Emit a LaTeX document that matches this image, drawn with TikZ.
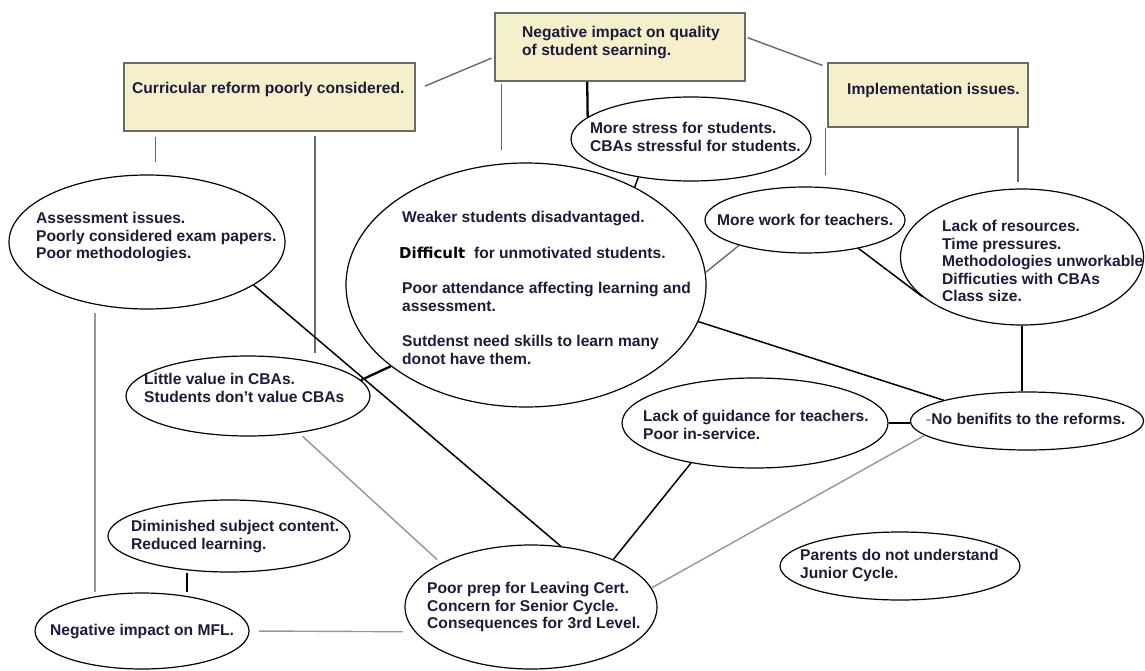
\documentclass[tikz,border=0pt]{standalone}
\usepackage{fontspec}
\setmainfont{Liberation Sans}
\newfontfamily\difffont{DejaVu Sans}
\usetikzlibrary{shapes.geometric,calc}
\definecolor{boxfill}{RGB}{245,239,204}
\definecolor{boxline}{RGB}{105,105,105}
\definecolor{ink}{RGB}{28,28,58}
\definecolor{midgray}{RGB}{105,105,105}
\definecolor{softgray}{RGB}{150,150,150}

\begin{document}
\begin{tikzpicture}[x=1pt,y=-1pt,
  bub/.style={ellipse,draw=black,line width=1.2pt,inner sep=0pt},
  topbox/.style={rectangle,draw=boxline,line width=1.6pt,fill=boxfill,inner sep=0pt},
  txt/.style={anchor=north west,align=left,inner sep=0pt,text=ink,
              font=\fontsize{15.6}{17.6}\selectfont\bfseries},
  gline/.style={draw=midgray,line width=1.4pt},
  lgline/.style={draw=softgray,line width=1.4pt},
  bline/.style={draw=black,line width=1.5pt},
  tbline/.style={draw=black,line width=2.3pt}]

\fill[white] (0,0) rectangle (1145,671);
\useasboundingbox (0,0) rectangle (1145,671);

% theme boxes
\node[topbox,minimum width=291pt,minimum height=68pt] (curr) at (269.5,97) {};
\node[topbox,minimum width=250pt,minimum height=68pt] (neg)  at (620,47) {};
\node[topbox,minimum width=200pt,minimum height=64pt] (impl) at (928,95) {};

\node[txt] (currt) at (132,82) {Curricular reform poorly considered.};
\node[txt] (negt)  at (522,26) {Negative impact on quality\\of student searning.};
\node[txt] (implt) at (847,83) {Implementation issues.};

% issue bubbles
\node[bub,minimum width=276pt,minimum height=134pt] (e1)     at (147,242) {};
\node[bub,minimum width=360pt,minimum height=244pt] (e2)     at (526,285) {};
\node[bub,minimum width=240pt,minimum height=84pt]  (stress) at (691,139) {};
\node[bub,minimum width=200pt,minimum height=66pt]  (work)   at (805,220) {};
\node[bub,minimum width=243pt,minimum height=136pt] (lack)   at (1022,257) {};
\node[bub,minimum width=244pt,minimum height=80pt]  (little) at (248,396) {};
\node[bub,minimum width=266pt,minimum height=90pt]  (guid)   at (755,423) {};
\node[bub,minimum width=233pt,minimum height=58pt]  (nob)    at (1027,421) {};
\node[bub,minimum width=240pt,minimum height=68pt]  (parent) at (900,566) {};
\node[bub,minimum width=242pt,minimum height=72pt]  (dimin)  at (229,536) {};
\node[bub,minimum width=214pt,minimum height=76pt]  (mfl)    at (142,631) {};
\node[bub,minimum width=252pt,minimum height=124pt] (prep)   at (531,607) {};

\node[txt] (e1t) at (36,212) {Assessment issues.\\Poorly considered exam papers.\\Poor methodologies.};
\node[txt] (e2t) at (402,211) {Weaker students disadvantaged.\\[18pt]
  \hspace*{-3pt}{\difffont\fontsize{15}{17.6}\selectfont\color{black}Difficult}\ \ for unmotivated students.\\[18pt]
  Poor attendance affecting learning and\\assessment.\\[18pt]
  Sutdenst need skills to learn many\\donot have them.};
\node[txt] (stresst) at (590,122) {More stress for students.\\CBAs stressful for students.};
\node[txt] (workt)   at (717,214) {More work for teachers.};
\node[txt] (lackt)   at (942,220) {Lack of resources.\\Time pressures.\\Methodologies unworkable\\Difficuties with CBAs\\Class size.};
\node[txt] (littlet) at (144,373) {Little value in CBAs.\\Students don't value CBAs};
\node[txt] (guidt)   at (643,410) {Lack of guidance for teachers.\\Poor in-service.};
\node[txt] (nobt)    at (926,413) {{\color{softgray}-}No benifits to the reforms.};
\node[txt] (parentt) at (800,549) {Parents do not understand\\Junior Cycle.};
\node[txt] (dimint)  at (131,520) {Diminished subject content.\\Reduced learning.};
\node[txt] (mflt)    at (50,624)  {Negative impact on MFL.};
\node[txt] (prept)   at (427,582) {Poor prep for Leaving Cert.\\Concern for Senior Cycle.\\Consequences for 3rd Level.};

% links from the theme boxes
\coordinate (c1) at ($(curr.south west)!0.11!(curr.south east)$);
\draw[gline,shorten <=5pt,shorten >=12pt] (c1) -- (c1 |- e1.north);
\coordinate (c2) at ($(curr.south west)!0.656!(curr.south east)$);
\draw[gline,shorten <=4pt,shorten >=2pt] (c2) -- (c2 |- little.north);
\draw[gline,shorten <=10pt,shorten >=3pt] ([yshift=7pt]curr.east) -- ([yshift=-10pt]neg.west);
\coordinate (c4) at ($(neg.south west)+(7,0)$);
\draw[gline,shorten <=2pt,shorten >=12pt] (c4) -- (c4 |- e2.north);
\coordinate (c5) at ($(neg.south west)+(93,0)$);
\draw[tbline] (c5) -- (stress.168);
\draw[gline,shorten <=2pt,shorten >=5pt] ([yshift=10pt]neg.east) -- ([yshift=-5pt]impl.north west);
\coordinate (c8) at ($(impl.south west)+(-2,0)$);
\draw[gline,shorten >=11pt] (c8) -- (c8 |- work.north);
\coordinate (c9) at ($(impl.south east)+(-11,0)$);
\draw[gline,shorten >=6pt] (c9) -- (c9 |- lack.north);

% links between bubbles
\draw[bline] (stress.216) -- (e2.42);
\draw[gline] (work.201) -- (e2.4);
\draw[bline] (work.332) -- (lack.202);
\draw[tbline] (lack.south) -- (lack.south |- nob.north);
\draw[bline] (e2.348) -- (nob.166);
\draw[tbline] (guid.east) -- (guid.east -| nob.west);
\draw[bline] (guid.212) -- (prep.30);
\draw[lgline] (nob.188) -- (prep.9);
\draw[bline] (e1.338) -- (prep.64);
\draw[tbline] (little.8) -- (e2.211);
\draw[lgline,shorten <=5pt,shorten >=5pt] (little.324) -- (prep.154);
\coordinate (c20) at ($(e1.south)+(-52,0)$);
\draw[lgline,shorten <=3pt] (c20) -- (c20 |- mfl.north);
\coordinate (c21) at ($(dimin.south)+(-42,0)$);
\draw[bline] (c21) -- (c21 |- mfl.north);
\draw[lgline,shorten <=9pt,shorten >=12pt] (mfl.east) -- (prep.192);
\end{tikzpicture}
\end{document}
